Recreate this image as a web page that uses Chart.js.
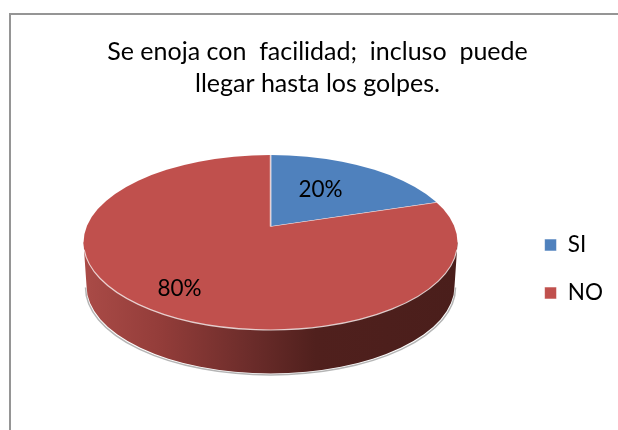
<!DOCTYPE html>
<html>
<head>
<meta charset="utf-8">
<script src="https://cdn.jsdelivr.net/npm/chart.js@4"></script>
<style>
html,body{margin:0;padding:0;width:618px;height:430px;overflow:hidden;background:#fff}
#frame{position:absolute;left:9px;top:13px;width:620px;height:430px;border:2px solid #959595;overflow:hidden;box-sizing:content-box}
#frame canvas{display:block}
</style>
</head>
<body>
<div id="frame"><canvas id="c" width="616" height="470"></canvas></div>
<script>
const titleLines = ["Se enoja con  facilidad;  incluso  puede", "llegar hasta los golpes."];
const categories = ["SI", "NO"];
const values = [20, 80];
const colors = ["#4F81BD", "#C0504D"];

const FONT = "Lato";
// 3D look, offsets relative to the centre Chart.js computes for the pie
const look = {
  rx: 187, ry: 87.5, faceDy: -26.5,
  apexDy: -42.5, apexDx: 0,
  spreadX: 260, spreadY: 116,
  wallRx: 184, wallDrop: 43.5,
  labelOffsets: [[50, -52.5], [-91, 46.5]]
};

const pie3d = {
  id: "pie3d",
  beforeDatasetsDraw(chart) {
    const ctx = chart.ctx, el = chart.getDatasetMeta(0).data[0];
    const cx = el.x, cy = el.y + look.faceDy, wallY = cy + look.wallDrop;
    ctx.save();
    // soft shadow rim
    ctx.beginPath();
    ctx.ellipse(cx, wallY + 1.5, look.wallRx + 1, look.ry, 0, 0, Math.PI);
    ctx.strokeStyle = "rgba(150,150,150,.7)";
    ctx.lineWidth = 1.5;
    ctx.stroke();
    // side wall
    const g = ctx.createLinearGradient(cx - look.rx, 0, cx + look.rx, 0);
    g.addColorStop(0, "#aa4b47");
    g.addColorStop(0.2, "#943d3a");
    g.addColorStop(0.45, "#6b2c2a");
    g.addColorStop(0.62, "#50201d");
    g.addColorStop(1, "#4a1e1b");
    ctx.beginPath();
    ctx.moveTo(cx - look.rx, cy);
    ctx.lineTo(cx - look.wallRx, wallY);
    ctx.ellipse(cx, wallY, look.wallRx, look.ry, 0, Math.PI, 0, true);
    ctx.lineTo(cx + look.rx, cy);
    ctx.closePath();
    ctx.fillStyle = g;
    ctx.fill();
    ctx.restore();
    // top face: slices clipped to the ellipse and spread around the apex
    ctx.save();
    ctx.beginPath();
    ctx.ellipse(cx, cy, look.rx, look.ry, 0, 0, Math.PI * 2);
    ctx.clip();
    const ax = el.x + look.apexDx, ay = el.y + look.apexDy;
    ctx.translate(ax, ay);
    ctx.scale(look.spreadX / el.outerRadius, look.spreadY / el.outerRadius);
    ctx.translate(-el.x, -el.y);
  },
  afterDatasetsDraw(chart) {
    const ctx = chart.ctx, el = chart.getDatasetMeta(0).data[0];
    ctx.restore();
    const cx = el.x, cy = el.y + look.faceDy;
    ctx.save();
    ctx.beginPath();
    ctx.ellipse(cx, cy, look.rx, look.ry, 0, 0.08, Math.PI - 0.08);
    ctx.strokeStyle = "rgba(255,255,255,.75)";
    ctx.lineWidth = 1.2;
    ctx.stroke();
    ctx.fillStyle = "#000";
    ctx.font = "22.5px " + FONT;
    ctx.textAlign = "center";
    ctx.textBaseline = "middle";
    values.forEach((v, i) => {
      const o = look.labelOffsets[i];
      ctx.fillText(v + "%", cx + o[0], el.y + look.faceDy + o[1]);
    });
    ctx.restore();
  }
};

new Chart(document.getElementById("c"), {
  type: "pie",
  data: {
    labels: categories,
    datasets: [{
      data: values,
      backgroundColor: colors,
      borderColor: "rgba(255,255,255,.55)",
      borderWidth: 1
    }]
  },
  plugins: [pie3d],
  options: {
    responsive: false,
    animation: false,
    rotation: 0,
    layout: { padding: { left: 11, right: 14, top: 0, bottom: 57 } },
    plugins: {
      tooltip: { enabled: false },
      title: {
        display: true,
        text: titleLines,
        color: "#000",
        font: { family: FONT, size: 25, weight: "normal", lineHeight: 1.28 },
        padding: { top: 21, bottom: 10 }
      },
      legend: {
        position: "right",
        fullSize: false,
        labels: {
          boxWidth: 12, boxHeight: 12, padding: 25.5,
          color: "#000",
          font: { family: FONT, size: 22.5 }
        }
      }
    }
  }
});
</script>
</body>
</html>
